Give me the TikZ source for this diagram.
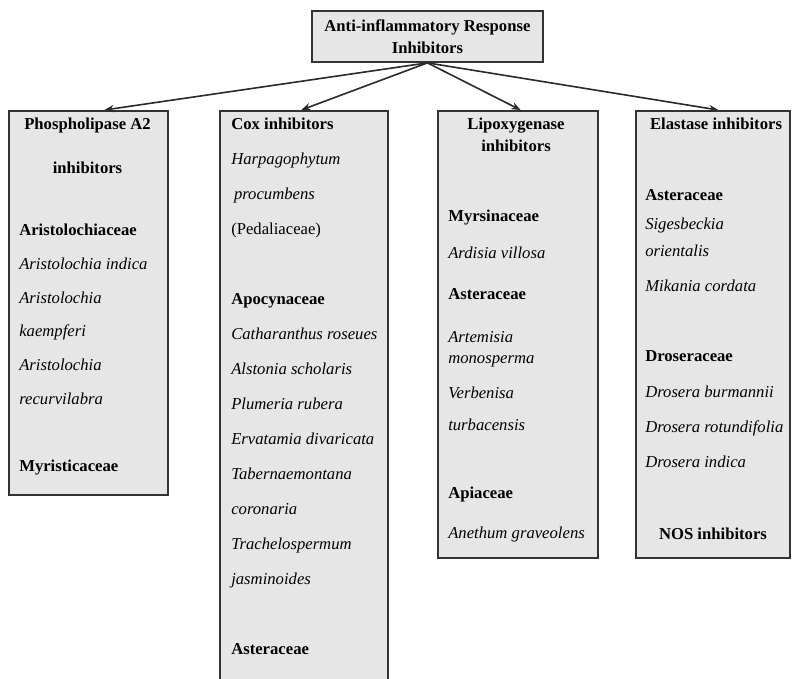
\documentclass[tikz,border=0pt]{standalone}
\usepackage{fontspec}
\setmainfont{Liberation Serif}
\usetikzlibrary{positioning, arrows.meta, calc}
\definecolor{boxFill}{HTML}{E6E6E6}
\definecolor{boxLine}{HTML}{333333}
\definecolor{arrowGrey}{HTML}{2A2A2A}

\begin{document}
\begin{tikzpicture}[x=0.75pt, y=-0.75pt, font=\fontsize{12.5}{26.25}\selectfont,
    group/.style={draw=boxLine, line width=1.4pt, fill=boxFill, inner sep=0pt, anchor=north west},
    head/.style={anchor=north, align=center, inner sep=0pt, font=\fontsize{12.5}{26.25}\selectfont\bfseries},
    body/.style={anchor=north west, align=left, inner sep=0pt},
    link/.style={-{Stealth[length=7pt, width=5.5pt]}, line width=1.2pt, arrowGrey}]
  \useasboundingbox (0,0) rectangle (792,678);

  % root
  \node[group, minimum width=173.25pt, minimum height=38.25pt, align=center,
        font=\fontsize{12.5}{16.5}\selectfont\bfseries] (root) at (311,10)
    {Anti-inflammatory Response\\Inhibitors};

  % the four groups
  \node[group, minimum width=119.25pt, minimum height=288pt] (pla) at (8,110) {};
  \node[group, minimum width=126pt, minimum height=450pt] (cox) at (219,110) {};
  \node[group, minimum width=120pt, minimum height=335.25pt] (lox) at (437,110) {};
  \node[group, minimum width=115.5pt, minimum height=335.25pt] (ela) at (635,110) {};

  \draw[link] (root.south) -- ([xshift=12pt]pla.north);
  \draw[link] (root.south) -- ([xshift=-2pt]cox.north);
  \draw[link] (root.south) -- ([xshift=2pt]lox.north);
  \draw[link] (root.south) -- ([xshift=4pt]ela.north);

  % Phospholipase A2
  \node[head] (plaHead) at (87.5,118) {Phospholipase A2\\[6.75pt]inhibitors};
  \node[body] (plaBody) at (19,224)
    {\textbf{Aristolochiaceae}\\[-1pt]
     \textit{Aristolochia indica}\\[-1pt]
     \textit{Aristolochia}\\[-1pt]
     \textit{kaempferi}\\[-1pt]
     \textit{Aristolochia}\\[-1pt]
     \textit{recurvilabra}\\[24pt]
     \textbf{Myristicaceae}};

  % Cox
  \node[body] (coxBody) at (231,118)
    {\textbf{Cox inhibitors}\\
     \textit{Harpagophytum}\\
     \textit{\,procumbens}\\
     (Pedaliaceae)\\[26.25pt]
     \textbf{Apocynaceae}\\
     \textit{Catharanthus roseues}\\
     \textit{Alstonia scholaris}\\
     \textit{Plumeria rubera}\\
     \textit{Ervatamia divaricata}\\
     \textit{Tabernaemontana}\\
     \textit{coronaria}\\
     \textit{Trachelospermum}\\
     \textit{jasminoides}\\[26.25pt]
     \textbf{Asteraceae}};

  % Lipoxygenase
  \node[head] (loxHead) at (516,118) {Lipoxygenase\\[-9.75pt]inhibitors};
  \node[body] (loxBody) at (448,210)
    {\textbf{Myrsinaceae}\\[1pt]
     \textit{Ardisia villosa}\\[4.5pt]
     \textbf{Asteraceae}\\[6pt]
     \textit{Artemisia}\\[-10.5pt]
     \textit{monosperma}\\
     \textit{Verbenisa}\\[-2.25pt]
     \textit{turbacensis}\\[24.75pt]
     \textbf{Apiaceae}\\[3.75pt]
     \textit{Anethum graveolens}};

  % Elastase
  \node[head] (elaHead) at (716,118) {Elastase inhibitors};
  \node[body] (elaBody) at (645,189)
    {\textbf{Asteraceae}\\[-4.5pt]
     \textit{Sigesbeckia}\\[-6pt]
     \textit{orientalis}\\
     \textit{Mikania cordata}\\[26.25pt]
     \textbf{Droseraceae}\\[0.75pt]
     \textit{Drosera burmannii}\\
     \textit{Drosera rotundifolia}\\
     \textit{Drosera indica}};
  \node[head, anchor=base] (nosHead) at (713,539) {NOS inhibitors};
\end{tikzpicture}
\end{document}
